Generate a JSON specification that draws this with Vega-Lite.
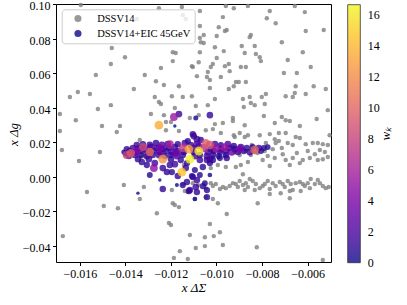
{
"$schema": "https://vega.github.io/schema/vega-lite/v6.json",
"width": 275, "height": 258,
"autosize": "none",
"padding": {"left": 56, "top": 4, "right": 76, "bottom": 43},
"config": {
  "font": "Liberation Serif",
  "view": {"stroke": "black", "strokeWidth": 1},
  "axis": {"grid": false, "domain": false, "tickColor": "black", "tickSize": 3.5, "labelColor": "black", "labelFontSize": 12, "labelFont": "Liberation Serif", "titleFont": "Liberation Serif", "titleFontSize": 13, "titleFontWeight": "normal", "titleColor": "black", "labelPadding": 2.5, "labelFlush": false}
},
"datasets": {
"gray": [
{"x":-0.01253,"y":0.0976},{"x":-0.01152,"y":0.0982},{"x":-0.0135,"y":0.0913},{"x":-0.01148,"y":0.0936},{"x":-0.01135,"y":0.0913},{"x":-0.01596,"y":0.0994},{"x":-0.01073,"y":0.0959},{"x":-0.00959,"y":0.0988},{"x":-0.00924,"y":0.0976},{"x":-0.00862,"y":0.0988},{"x":-0.00766,"y":0.0959},{"x":-0.00656,"y":0.0988},{"x":-0.00612,"y":0.0953},{"x":-0.00972,"y":0.0924},{"x":-0.00779,"y":0.0918},{"x":-0.0074,"y":0.0889},{"x":-0.01073,"y":0.0872},{"x":-0.0099,"y":0.0866},{"x":-0.00963,"y":0.0843},{"x":-0.00955,"y":0.0849},{"x":-0.00608,"y":0.0843},{"x":-0.00529,"y":0.0849},{"x":-0.01056,"y":0.082},{"x":-0.00999,"y":0.0814},{"x":-0.00849,"y":0.082},{"x":-0.00854,"y":0.0808},{"x":-0.01073,"y":0.0803},{"x":-0.01069,"y":0.0779},{"x":-0.01056,"y":0.0774},{"x":-0.00713,"y":0.0779},{"x":-0.01007,"y":0.075},{"x":-0.00889,"y":0.0756},{"x":-0.00832,"y":0.0756},{"x":-0.00968,"y":0.0727},{"x":-0.00876,"y":0.0716},{"x":-0.00827,"y":0.071},{"x":-0.0081,"y":0.0692},{"x":-0.00805,"y":0.0669},{"x":-0.01073,"y":0.0721},{"x":-0.00621,"y":0.0721},{"x":-0.00687,"y":0.0675},{"x":-0.00999,"y":0.0687},{"x":-0.01078,"y":0.0663},{"x":-0.01016,"y":0.0652},{"x":-0.01025,"y":0.0635},{"x":-0.00963,"y":0.064},{"x":-0.00946,"y":0.0652},{"x":-0.00893,"y":0.0635},{"x":-0.00871,"y":0.0635},{"x":-0.00586,"y":0.0635},{"x":-0.01104,"y":0.0635},{"x":-0.01038,"y":0.0606},{"x":-0.00942,"y":0.0611},{"x":-0.01086,"y":0.0582},{"x":-0.00704,"y":0.06},{"x":-0.00647,"y":0.06},{"x":-0.01042,"y":0.0577},{"x":-0.01029,"y":0.0559},{"x":-0.00981,"y":0.0577},{"x":-0.00915,"y":0.0548},{"x":-0.00902,"y":0.0548},{"x":-0.00871,"y":0.0548},{"x":-0.00924,"y":0.0524},{"x":-0.00946,"y":0.0507},{"x":-0.01029,"y":0.0513},{"x":-0.00652,"y":0.0524},{"x":-0.00573,"y":0.0524},{"x":-0.0052,"y":0.0507},{"x":-0.0146,"y":0.0745},{"x":-0.01402,"y":0.0692},{"x":-0.01464,"y":0.0652},{"x":-0.01192,"y":0.0721},{"x":-0.01179,"y":0.0716},{"x":-0.01192,"y":0.0669},{"x":-0.01108,"y":0.064},{"x":-0.01244,"y":0.0629},{"x":-0.0153,"y":0.0588},{"x":-0.01315,"y":0.0588},{"x":-0.01266,"y":0.0553},{"x":-0.01231,"y":0.053},{"x":-0.01165,"y":0.0524},{"x":-0.01363,"y":0.0507},
{"x":-0.01644,"y":0.0461},{"x":-0.01609,"y":0.049},{"x":-0.01556,"y":0.0478},{"x":-0.01521,"y":0.0391},{"x":-0.01464,"y":0.0414},{"x":-0.01688,"y":0.0362},{"x":-0.01618,"y":0.0327},{"x":-0.01503,"y":0.0293},{"x":-0.01424,"y":0.0293},{"x":-0.01438,"y":0.0258},{"x":-0.01688,"y":0.0264},{"x":-0.01679,"y":0.0154},{"x":-0.01604,"y":0.009},{"x":-0.01512,"y":0.0142},{"x":-0.01271,"y":0.0461},{"x":-0.01253,"y":0.0432},{"x":-0.01244,"y":0.042},{"x":-0.01196,"y":0.0466},{"x":-0.01148,"y":0.0461},{"x":-0.01108,"y":0.0466},{"x":-0.01288,"y":0.0362},{"x":-0.01231,"y":0.0356},{"x":-0.01222,"y":0.0316},{"x":-0.01183,"y":0.0397},{"x":-0.012,"y":0.0316},{"x":-0.01165,"y":0.0264},{"x":-0.01117,"y":0.0339},{"x":-0.01222,"y":0.0269},{"x":-0.01337,"y":0.0212},{"x":-0.0135,"y":0.0136},{"x":-0.01332,"y":0.0113},{"x":-0.01315,"y":0.0119},{"x":-0.01143,"y":0.0067},
{"x":-0.01091,"y":0.0409},{"x":-0.01038,"y":0.0414},{"x":-0.01007,"y":0.0449},{"x":-0.00884,"y":0.0449},{"x":-0.00854,"y":0.0461},{"x":-0.00849,"y":0.0426},{"x":-0.0088,"y":0.0403},{"x":-0.00832,"y":0.0414},{"x":-0.00788,"y":0.042},{"x":-0.00801,"y":0.0461},{"x":-0.00783,"y":0.0478},{"x":-0.00696,"y":0.0466},{"x":-0.00665,"y":0.0461},{"x":-0.00656,"y":0.0484},{"x":-0.00608,"y":0.0478},{"x":-0.00511,"y":0.0385},{"x":-0.00792,"y":0.0351},{"x":-0.01078,"y":0.0356},{"x":-0.00928,"y":0.0339},{"x":-0.00928,"y":0.0322},{"x":-0.01007,"y":0.0304},{"x":-0.00972,"y":0.031},{"x":-0.00876,"y":0.0298},{"x":-0.00713,"y":0.0345},{"x":-0.00696,"y":0.0327},{"x":-0.00678,"y":0.0322},{"x":-0.00744,"y":0.031},{"x":-0.00634,"y":0.0293},{"x":-0.0056,"y":0.0333},{"x":-0.01047,"y":0.0269},{"x":-0.01016,"y":0.0275},{"x":-0.00981,"y":0.0252},{"x":-0.00898,"y":0.0252},{"x":-0.00924,"y":0.024},{"x":-0.0092,"y":0.0229},{"x":-0.00862,"y":0.024},{"x":-0.00876,"y":0.0229},{"x":-0.0081,"y":0.024},{"x":-0.00766,"y":0.0246},{"x":-0.00726,"y":0.0252},{"x":-0.00696,"y":0.0252},{"x":-0.00652,"y":0.0229},{"x":-0.00634,"y":0.0223},{"x":-0.00744,"y":0.0217},{"x":-0.00726,"y":0.0206},{"x":-0.0074,"y":0.0194},{"x":-0.00687,"y":0.0194},{"x":-0.00608,"y":0.0188},{"x":-0.00577,"y":0.0194},{"x":-0.00555,"y":0.0194},{"x":-0.00533,"y":0.0188},{"x":-0.00511,"y":0.0183},{"x":-0.00546,"y":0.0154},{"x":-0.00665,"y":0.0183},{"x":-0.00713,"y":0.0165},{"x":-0.00753,"y":0.0159},{"x":-0.00788,"y":0.0148},{"x":-0.00819,"y":0.0136},{"x":-0.00849,"y":0.0125},{"x":-0.00832,"y":0.0142},{"x":-0.00871,"y":0.0148},{"x":-0.00898,"y":0.0159},{"x":-0.00928,"y":0.0171},{"x":-0.0092,"y":0.0142},{"x":-0.00744,"y":0.0107},{"x":-0.00696,"y":0.0096},{"x":-0.00665,"y":0.0107},{"x":-0.00634,"y":0.0078},{"x":-0.00621,"y":0.0096},{"x":-0.0059,"y":0.0107},{"x":-0.00555,"y":0.0096},{"x":-0.00533,"y":0.0101},{"x":-0.00511,"y":0.0113},{"x":-0.00797,"y":0.0096},{"x":-0.00766,"y":0.0061},{"x":-0.00678,"y":0.0067},{"x":-0.00898,"y":0.0125},{"x":-0.00862,"y":0.0084},{"x":-0.00915,"y":0.0055},{"x":-0.00893,"y":0.0067},{"x":-0.00959,"y":0.0055},{"x":-0.00994,"y":0.0067},{"x":-0.01025,"y":0.0049},{"x":-0.00884,"y":0.0014},{"x":-0.00963,"y":0.0119},{"x":-0.01016,"y":0.0113},{"x":-0.00845,"y":0.0183},{"x":-0.00783,"y":0.0194},{"x":-0.00599,"y":0.0148},{"x":-0.00568,"y":0.013},{"x":-0.00647,"y":0.0136},{"x":-0.00709,"y":0.013},{"x":-0.00775,"y":0.0119},{"x":-0.00524,"y":0.0142},{"x":-0.00503,"y":0.024},
{"x":-0.01082,"y":-0.0049},{"x":-0.01047,"y":-0.0067},{"x":-0.01025,"y":-0.0038},{"x":-0.01003,"y":-0.0043},{"x":-0.00985,"y":-0.0072},{"x":-0.00972,"y":-0.0061},{"x":-0.00959,"y":-0.0067},{"x":-0.00942,"y":-0.0055},{"x":-0.00928,"y":-0.0038},{"x":-0.00915,"y":-0.0043},{"x":-0.00898,"y":-0.0026},{"x":-0.00884,"y":-0.0049},{"x":-0.00871,"y":-0.0038},{"x":-0.00854,"y":-0.0014},{"x":-0.00841,"y":-0.0026},{"x":-0.00827,"y":-0.0043},{"x":-0.0081,"y":-0.0067},{"x":-0.00788,"y":-0.0043},{"x":-0.00775,"y":-0.0026},{"x":-0.00753,"y":-0.0038},{"x":-0.0074,"y":-0.0055},{"x":-0.00722,"y":-0.0032},{"x":-0.00709,"y":-0.0043},{"x":-0.00687,"y":-0.0026},{"x":-0.00674,"y":-0.0043},{"x":-0.00652,"y":-0.0038},{"x":-0.00634,"y":-0.0032},{"x":-0.00621,"y":-0.0043},{"x":-0.00599,"y":-0.0038},{"x":-0.00586,"y":-0.0014},{"x":-0.00568,"y":-0.0043},{"x":-0.00555,"y":-0.002},{"x":-0.00533,"y":-0.0055},{"x":-0.0052,"y":-0.0067},{"x":-0.00876,"y":-0.0078},{"x":-0.00832,"y":-0.0078},{"x":-0.00766,"y":-0.0072},{"x":-0.00665,"y":-0.0078},{"x":-0.00718,"y":-0.0096},{"x":-0.00678,"y":-0.0084},{"x":-0.0063,"y":-0.0084},{"x":-0.0059,"y":-0.0067},{"x":-0.00507,"y":-0.0061},{"x":-0.00906,"y":-0.0061},{"x":-0.00797,"y":-0.0055},{"x":-0.007,"y":-0.0061},{"x":-0.00612,"y":-0.0055},{"x":-0.00546,"y":-0.0038},{"x":-0.01016,"y":-0.0055},{"x":-0.00862,"y":-0.0061},
{"x":-0.01095,"y":-0.013},{"x":-0.01047,"y":-0.0119},{"x":-0.01016,"y":-0.013},{"x":-0.00994,"y":-0.0154},{"x":-0.00819,"y":-0.0154},{"x":-0.00766,"y":-0.0101},{"x":-0.00678,"y":-0.0125},{"x":-0.00955,"y":-0.0217},{"x":-0.01029,"y":-0.0275},{"x":-0.00985,"y":-0.0322},{"x":-0.01012,"y":-0.0345},{"x":-0.01051,"y":-0.0351},{"x":-0.01091,"y":-0.0414},{"x":-0.01051,"y":-0.0403},{"x":-0.00972,"y":-0.0397},{"x":-0.00823,"y":-0.0409},{"x":-0.00533,"y":-0.0484},{"x":-0.01117,"y":-0.0339},{"x":-0.01126,"y":-0.0478},
{"x":-0.01569,"y":-0.009},{"x":-0.01407,"y":-0.0049},{"x":-0.01319,"y":-0.0061},{"x":-0.01495,"y":-0.0171},{"x":-0.01433,"y":-0.0183},{"x":-0.01337,"y":-0.013},{"x":-0.01262,"y":-0.0212},{"x":-0.01192,"y":-0.0154},{"x":-0.01183,"y":-0.0165},{"x":-0.01165,"y":-0.0177},{"x":-0.01209,"y":-0.0269},{"x":-0.012,"y":-0.0281},{"x":-0.01675,"y":-0.0345},{"x":-0.01161,"y":-0.0432},{"x":-0.01187,"y":-0.0472},{"x":-0.01196,"y":-0.0078},{"x":-0.01148,"y":-0.0043},{"x":-0.01139,"y":-0.0084},{"x":-0.01126,"y":-0.009},{"x":-0.01104,"y":-0.0038}
],
"eic": [
{"x":-0.01253,"y":0.0298,"w":13.5},{"x":-0.01187,"y":0.0345,"w":5.5},{"x":-0.01165,"y":0.0362,"w":1.5},{"x":-0.01183,"y":0.0293,"w":0.002},{"x":-0.01104,"y":0.0246,"w":1.0},{"x":-0.01091,"y":0.0339,"w":0.1},{"x":-0.01029,"y":0.0356,"w":1.2},{"x":-0.011,"y":0.0235,"w":1.5},{"x":-0.01086,"y":0.0217,"w":1.5},
{"x":-0.01376,"y":0.0136,"w":9.5},{"x":-0.01394,"y":0.0125,"w":8.0},{"x":-0.01323,"y":0.0171,"w":8.5},{"x":-0.01293,"y":0.0142,"w":10.5},{"x":-0.01236,"y":0.0101,"w":12.5},{"x":-0.01275,"y":0.0049,"w":5.0},{"x":-0.01078,"y":0.0148,"w":16.0},{"x":-0.01117,"y":0.0101,"w":16.5},{"x":-0.01152,"y":0.0026,"w":14.5},{"x":-0.01121,"y":0.0159,"w":13.0},{"x":-0.01148,"y":0.0165,"w":7.5},{"x":-0.01029,"y":0.0183,"w":9.0},{"x":-0.01003,"y":0.0165,"w":5.5},{"x":-0.00963,"y":0.0171,"w":5.5},{"x":-0.00832,"y":0.0154,"w":10.0},{"x":-0.01056,"y":0.0165,"w":7.0},{"x":-0.01047,"y":0.0194,"w":9.5},{"x":-0.01205,"y":0.0188,"w":6.0},{"x":-0.00898,"y":0.0159,"w":4.0},{"x":-0.0135,"y":0.0148,"w":4.5},{"x":-0.01179,"y":0.0136,"w":3.5},{"x":-0.00933,"y":0.0142,"w":3.0},{"x":-0.01249,"y":0.0165,"w":4.0},
{"x":-0.0135,"y":0.0183,"w":1.2},{"x":-0.01323,"y":0.0188,"w":0.8},{"x":-0.01293,"y":0.0183,"w":1.5},{"x":-0.01266,"y":0.0194,"w":1.0},{"x":-0.0124,"y":0.0183,"w":2.0},{"x":-0.01214,"y":0.0188,"w":1.3},{"x":-0.0117,"y":0.0188,"w":0.9},{"x":-0.01139,"y":0.0194,"w":1.6},{"x":-0.01113,"y":0.0183,"w":1.1},{"x":-0.01086,"y":0.0188,"w":2.2},{"x":-0.01007,"y":0.0188,"w":1.4},{"x":-0.00981,"y":0.0183,"w":0.7},{"x":-0.0095,"y":0.0188,"w":1.8},{"x":-0.00924,"y":0.0177,"w":1.0},{"x":-0.01069,"y":0.0212,"w":1.0},{"x":-0.01126,"y":0.0206,"w":0.6},
{"x":-0.01394,"y":0.0159,"w":1.0},{"x":-0.01367,"y":0.0165,"w":1.6},{"x":-0.01341,"y":0.0165,"w":0.9},{"x":-0.01315,"y":0.0159,"w":1.2},{"x":-0.01288,"y":0.0171,"w":2.0},{"x":-0.01262,"y":0.0165,"w":1.1},{"x":-0.01236,"y":0.0159,"w":1.7},{"x":-0.01209,"y":0.0165,"w":0.8},{"x":-0.01183,"y":0.0171,"w":1.4},{"x":-0.01104,"y":0.0165,"w":1.9},{"x":-0.01078,"y":0.0177,"w":1.2},{"x":-0.01025,"y":0.0159,"w":1.0},{"x":-0.00981,"y":0.0159,"w":2.4},{"x":-0.00946,"y":0.0165,"w":1.3},{"x":-0.0092,"y":0.0159,"w":0.9},{"x":-0.00893,"y":0.0171,"w":1.6},{"x":-0.00867,"y":0.0165,"w":1.1},{"x":-0.00841,"y":0.0171,"w":0.7},{"x":-0.00814,"y":0.0165,"w":1.3},{"x":-0.00792,"y":0.0165,"w":0.6},{"x":-0.00775,"y":0.0171,"w":0.4},
{"x":-0.01407,"y":0.0142,"w":0.1},{"x":-0.01381,"y":0.0148,"w":1.1},{"x":-0.01354,"y":0.0142,"w":1.8},{"x":-0.01328,"y":0.0148,"w":1.0},{"x":-0.01302,"y":0.0142,"w":1.4},{"x":-0.01275,"y":0.0148,"w":0.9},{"x":-0.01249,"y":0.0142,"w":2.1},{"x":-0.01222,"y":0.0148,"w":1.2},{"x":-0.01196,"y":0.0142,"w":1.6},{"x":-0.0117,"y":0.0148,"w":0.8},{"x":-0.01143,"y":0.0142,"w":1.3},{"x":-0.011,"y":0.0142,"w":1.0},{"x":-0.01038,"y":0.0142,"w":1.7},{"x":-0.01012,"y":0.0148,"w":1.1},{"x":-0.00985,"y":0.0142,"w":0.9},{"x":-0.00959,"y":0.0148,"w":1.5},{"x":-0.00906,"y":0.0142,"w":1.2},{"x":-0.0088,"y":0.0148,"w":0.8},{"x":-0.00854,"y":0.0142,"w":1.4},{"x":-0.00805,"y":0.0148,"w":0.6},
{"x":-0.01385,"y":0.0119,"w":0.9},{"x":-0.01359,"y":0.0125,"w":1.3},{"x":-0.01332,"y":0.0125,"w":0.7},{"x":-0.01306,"y":0.0119,"w":1.5},{"x":-0.0128,"y":0.0125,"w":1.0},{"x":-0.01253,"y":0.0125,"w":1.8},{"x":-0.01227,"y":0.0119,"w":1.1},{"x":-0.012,"y":0.0125,"w":0.9},{"x":-0.01174,"y":0.0119,"w":2.0},{"x":-0.01148,"y":0.0125,"w":1.2},{"x":-0.01095,"y":0.0119,"w":1.4},{"x":-0.01073,"y":0.0125,"w":0.8},{"x":-0.01042,"y":0.0119,"w":1.6},{"x":-0.01016,"y":0.0125,"w":1.0},{"x":-0.0099,"y":0.0119,"w":0.7},{"x":-0.00959,"y":0.0125,"w":1.2},
{"x":-0.01345,"y":0.0101,"w":1.0},{"x":-0.01297,"y":0.0101,"w":1.3},{"x":-0.012,"y":0.0101,"w":1.1},{"x":-0.01157,"y":0.0096,"w":0.9},{"x":-0.01073,"y":0.0096,"w":1.2},{"x":-0.01029,"y":0.0101,"w":1.5},{"x":-0.00985,"y":0.0107,"w":0.6},{"x":-0.01402,"y":0.013,"w":0.01},{"x":-0.01345,"y":-0.0096,"w":0.002},{"x":-0.01328,"y":0.0084,"w":1.0},{"x":-0.01306,"y":0.0067,"w":0.8},{"x":-0.01271,"y":0.0078,"w":1.5},{"x":-0.01236,"y":0.0049,"w":1.2},{"x":-0.01205,"y":0.0067,"w":1.0},{"x":-0.01183,"y":0.0072,"w":1.5},{"x":-0.0113,"y":0.0078,"w":1.0},{"x":-0.01196,"y":0.0026,"w":0.8},{"x":-0.0117,"y":0.0003,"w":1.0},{"x":-0.01135,"y":0.0049,"w":1.2},{"x":-0.01095,"y":0.0038,"w":0.6},{"x":-0.01218,"y":0.0026,"w":1.0},{"x":-0.01174,"y":-0.0049,"w":0.01},{"x":-0.01236,"y":-0.0072,"w":1.0},{"x":-0.01148,"y":-0.0049,"w":0.8},{"x":-0.0113,"y":-0.0032,"w":1.0},{"x":-0.01086,"y":-0.002,"w":1.3},{"x":-0.01086,"y":-0.009,"w":1.0},{"x":-0.01042,"y":-0.0078,"w":0.8},{"x":-0.01121,"y":-0.0084,"w":1.0},{"x":-0.01095,"y":-0.013,"w":0.05},{"x":-0.01042,"y":-0.0119,"w":1.0},{"x":-0.01073,"y":0.0009,"w":0.5},{"x":-0.01051,"y":-0.0038,"w":0.4},{"x":-0.01029,"y":0.0009,"w":0.05},{"x":-0.01249,"y":-0.002,"w":0.002},{"x":-0.01293,"y":0.0009,"w":0.5},{"x":-0.01108,"y":0.0003,"w":0.7},{"x":-0.0106,"y":-0.0055,"w":0.9},{"x":-0.01091,"y":-0.0061,"w":1.5},{"x":-0.0106,"y":0.0055,"w":1.0},{"x":-0.01042,"y":0.0096,"w":1.2},{"x":-0.01029,"y":0.0078,"w":0.8},{"x":-0.01104,"y":-0.0003,"w":1.0},{"x":-0.01117,"y":-0.0078,"w":1.1},{"x":-0.01016,"y":0.0096,"w":0.9},{"x":-0.00955,"y":0.0107,"w":1.0}
]
},
"encoding": {
  "x": {"field": "x", "type": "quantitative", "scale": {"domain": [-0.01705, -0.00497], "nice": false, "zero": false},
        "axis": {"title": "x ΔΣ", "values": [-0.016,-0.014,-0.012,-0.01,-0.008,-0.006], "format": ".3f", "titleX": 137.5, "titleY": 25.5, "titleBaseline": "middle", "titleFontStyle": "italic"}},
  "y": {"field": "y", "type": "quantitative", "scale": {"domain": [-0.0495, 0.1], "nice": false, "zero": false},
        "axis": {"title": "x Δg", "values": [-0.04,-0.02,0,0.02,0.04,0.06,0.08,0.1], "format": ".2f", "labelOffset": 1.5, "titleX": -43, "titleY": 130, "titleAngle": -90, "titleAlign": "center", "titleBaseline": "middle", "titleFontStyle": "italic"}}
},
"layer": [
  {"data": {"name": "gray"}, "mark": {"type": "circle", "opacity": 0.8, "size": 20},
   "encoding": {"color": {"datum": "DSSV14", "type": "nominal",
     "scale": {"domain": ["DSSV14", "DSSV14+EIC 45GeV"], "range": ["#808080", "#0d0887"]},
     "legend": {"title": null, "orient": "none", "legendX": 5.7, "legendY": 5.3, "fillColor": "rgba(255,255,255,0.8)", "strokeColor": "#cccccc", "cornerRadius": 3, "padding": 4, "symbolType": "circle", "symbolSize": 50, "symbolOpacity": 0.8, "symbolStrokeWidth": 0, "labelFont": "Liberation Serif", "labelFontSize": 10.5, "labelColor": "black", "labelOffset": 14, "rowPadding": 4, "symbolOffset": 7}}}},
  {"data": {"name": "eic"}, "mark": {"type": "circle", "opacity": 0},
   "encoding": {
     "color": {"field": "w", "type": "quantitative", "scale": {"scheme": "plasma", "domain": [0, 16.67]},
       "legend": {"type": "gradient", "title": "wₖ", "orient": "none", "legendX": 291.7, "legendY": 0.7, "direction": "vertical", "gradientLength": 258, "gradientThickness": 12.6, "gradientStrokeColor": "black", "gradientStrokeWidth": 0.8, "values": [0,2,4,6,8,10,12,14,16], "format": "d", "labelFontSize": 12, "labelFont": "Liberation Serif", "labelOffset": 7.5, "labelColor": "black", "labelOverlap": false, "titleOrient": "right", "titleAnchor": "middle", "titleFont": "Liberation Serif", "titleFontSize": 13, "titleFontStyle": "italic", "titleFontWeight": "normal", "titleColor": "black", "titlePadding": 4, "padding": 0,
         "encode": {"gradient": {"update": {"opacity": {"value": 0.8}}},
                    "labels": {"update": {"baseline": {"value": "middle"}}},
                    "title": {"update": {"angle": {"value": -90}, "dy": {"value": 9}}}}}}}},
  {"data": {"name": "eic"}, "mark": {"type": "circle", "opacity": 0.8},
   "encoding": {
     "color": {"field": "w", "type": "quantitative", "scale": {"scheme": "plasma", "domain": [0, 16.67]}, "legend": null},
     "size": {"field": "w", "type": "quantitative", "scale": {"type": "pow", "exponent": 0.25, "domain": [0, 16.67], "range": [4, 80]}, "legend": null},
     "order": {"field": "w", "type": "quantitative"}}},
  {"data": {"values": [{}]}, "mark": {"type": "text", "align": "left", "baseline": "alphabetic", "fontSize": 13.5, "fontStyle": "italic", "font": "Liberation Serif"},
   "encoding": {"x": {"datum": -0.01603, "type": "quantitative"}, "y": {"datum": -0.0306, "type": "quantitative"}, "text": {"value": "Q"}}},
  {"data": {"values": [{}]}, "mark": {"type": "text", "align": "left", "baseline": "alphabetic", "fontSize": 13.5, "font": "Liberation Serif", "dx": 10},
   "encoding": {"x": {"datum": -0.01603, "type": "quantitative"}, "y": {"datum": -0.0306, "type": "quantitative"}, "text": {"value": "²"}}},
  {"data": {"values": [{}]}, "mark": {"type": "text", "align": "left", "baseline": "alphabetic", "fontSize": 13.5, "font": "Liberation Serif", "dx": 20.7},
   "encoding": {"x": {"datum": -0.01603, "type": "quantitative"}, "y": {"datum": -0.0306, "type": "quantitative"}, "text": {"value": "= 10 GeV²"}}},
  {"data": {"values": [{}]}, "mark": {"type": "text", "align": "left", "baseline": "alphabetic", "fontSize": 13.5, "fontStyle": "italic", "font": "Liberation Serif"},
   "encoding": {"x": {"datum": -0.01603, "type": "quantitative"}, "y": {"datum": -0.0397, "type": "quantitative"}, "text": {"value": "x"}}},
  {"data": {"values": [{}]}, "mark": {"type": "text", "align": "left", "baseline": "alphabetic", "fontSize": 13.5, "font": "Liberation Serif", "dx": 12.4},
   "encoding": {"x": {"datum": -0.01603, "type": "quantitative"}, "y": {"datum": -0.0397, "type": "quantitative"}, "text": {"value": "= 10⁻³"}}}
],
"resolve": {"scale": {"color": "independent", "size": "independent"}, "legend": {"color": "independent"}}
}
